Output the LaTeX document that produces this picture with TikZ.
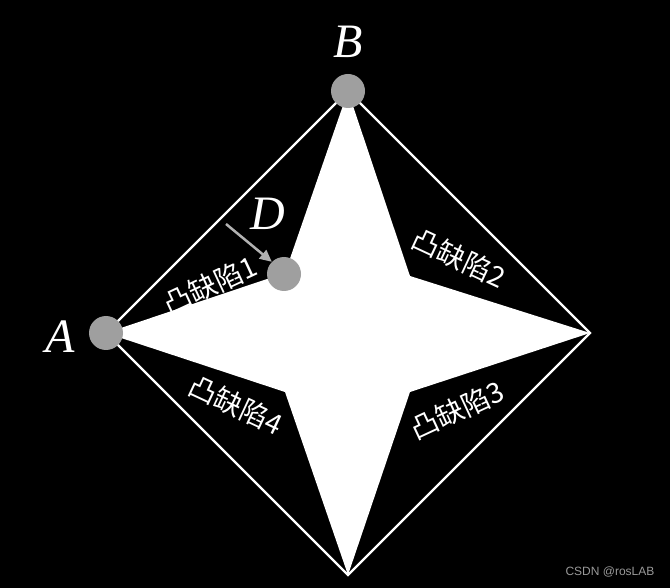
\documentclass[tikz,border=0pt]{standalone}
\usepackage{fontspec}
\setmainfont{Liberation Serif}
\newfontfamily\cjk{Noto Sans CJK SC}
\newfontfamily\sans{Liberation Sans}
\usetikzlibrary{arrows.meta}
\begin{document}
\begin{tikzpicture}[x=1pt,y=-1pt,
  dot/.style={circle,fill=gray!75,minimum size=34pt,inner sep=0pt},
  letter/.style={text=white,font=\fontsize{48}{48}\selectfont\itshape,inner sep=0pt},
  defect/.style={text=white,font=\cjk\fontsize{28}{28}\selectfont,inner sep=0pt}]
\fill[black] (0,0) rectangle (670,588);
\useasboundingbox (0,0) rectangle (670,588);
\coordinate (A) at (106,333);
\coordinate (B) at (348,91);
\coordinate (R) at (590,333);
\coordinate (S) at (348,575);
\coordinate (C) at (285,273);
\coordinate (TR) at (410,276);
\coordinate (BR) at (410,392);
\coordinate (BL) at (285,392);
\fill[white] (A) -- (C) -- (B) -- (TR) -- (R) -- (BR) -- (S) -- (BL) -- cycle;
\draw[white,line width=2.2pt] (A) -- (B) -- (R) -- (S) -- cycle;
\node[dot] (dA) at (A) {};
\node[dot] (dB) at (B) {};
\node[dot] (dC) at (284,274) {};
\node[letter] (lA) at (60,337) {A};
\node[letter] (lB) at (348,42) {B};
\node[letter] (lC) at (320,262) {C};
\node[letter] (lD) at (268,214) {D};
\coordinate (arrS) at (226,224);
\draw[gray!60,line width=2.5pt,-{Triangle[length=12pt,width=11pt]}] (arrS) -- (dC.135);
\node[defect,rotate=25] (d1) at (210,285) {凸缺陷1};
\node[defect,rotate=-25] (d2) at (459,258) {凸缺陷2};
\node[defect,rotate=25] (d3) at (457,410) {凸缺陷3};
\node[defect,rotate=-25] (d4) at (236,405) {凸缺陷4};
\node[text=gray!80,font=\sans\fontsize{12}{12}\selectfont,inner sep=0pt] (wm) at (610,572) {CSDN @rosLAB};
\end{tikzpicture}
\end{document}
